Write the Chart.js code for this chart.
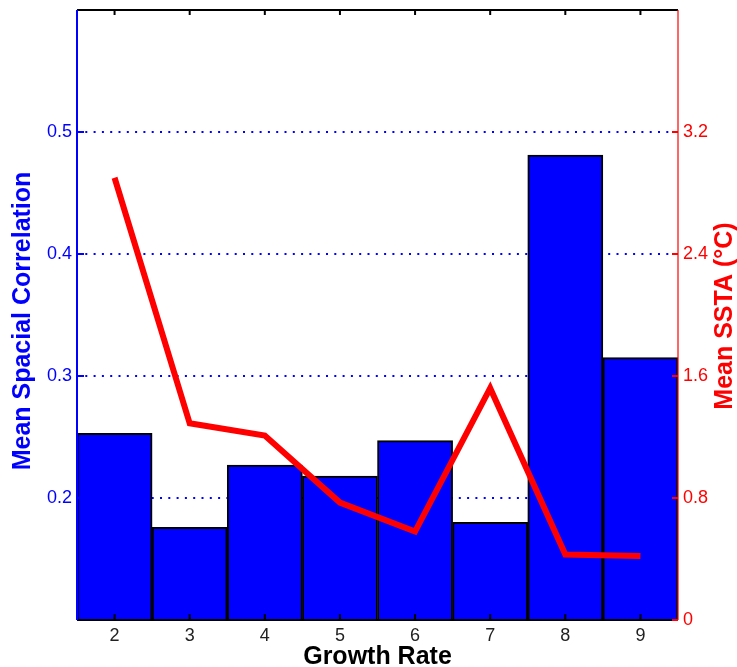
<!DOCTYPE html>
<html>
<head>
<meta charset="utf-8">
<script src="https://cdn.jsdelivr.net/npm/chart.js@4"></script>
<style>
  html, body { margin: 0; padding: 0; background: #fff; }
  #wrap { width: 737px; height: 667px; }
</style>
</head>
<body>
<div id="wrap"><canvas id="growthChart" width="737" height="667"></canvas></div>
<script>
const growthRates = ['2', '3', '4', '5', '6', '7', '8', '9'];
const meanCorrelation = [0.253, 0.176, 0.227, 0.218, 0.247, 0.180, 0.481, 0.315];
const meanSsta = [2.90, 1.29, 1.21, 0.77, 0.58, 1.52, 0.43, 0.42];
const corrTicks = [0.2, 0.3, 0.4, 0.5];
const sstaTicks = [0, 0.8, 1.6, 2.4, 3.2];

const tickFont = { family: 'Liberation Sans', size: 18 };
const titleFont = { family: 'Liberation Sans', size: 25, weight: 'bold', lineHeight: 1 };

// MATLAB-style box with inward tick marks, drawn over the bars
const frame = {
    id: 'frame',
    afterDatasetsDraw(chart) {
        const { ctx, chartArea: a, scales: { x, y, y1 } } = chart;
        ctx.save();
        ctx.lineCap = 'butt';

        ctx.strokeStyle = '#000';
        ctx.lineWidth = 2;
        ctx.beginPath();
        ctx.moveTo(a.left, a.top); ctx.lineTo(a.right, a.top);
        ctx.moveTo(a.left, a.bottom); ctx.lineTo(a.right, a.bottom);
        growthRates.forEach((c, i) => {
            const px = x.getPixelForValue(i);
            ctx.moveTo(px, a.top); ctx.lineTo(px, a.top + 5);
            ctx.moveTo(px, a.bottom); ctx.lineTo(px, a.bottom - 6);
        });
        ctx.stroke();

        ctx.strokeStyle = '#0000ff';
        ctx.beginPath();
        ctx.moveTo(a.left, a.top); ctx.lineTo(a.left, a.bottom);
        corrTicks.forEach(v => {
            const py = y.getPixelForValue(v);
            ctx.moveTo(a.left, py); ctx.lineTo(a.left + 7, py);
        });
        ctx.stroke();

        ctx.strokeStyle = '#ff0000';
        ctx.lineWidth = 1.2;
        ctx.beginPath();
        ctx.moveTo(a.right, a.top); ctx.lineTo(a.right, a.bottom);
        ctx.stroke();
        ctx.lineWidth = 2;
        ctx.beginPath();
        sstaTicks.forEach(v => {
            const py = y1.getPixelForValue(v);
            ctx.moveTo(a.right, py); ctx.lineTo(a.right - 6, py);
        });
        ctx.stroke();

        // both side titles read bottom-to-top
        ctx.font = 'bold 25px "Liberation Sans"';
        ctx.textAlign = 'center';
        ctx.textBaseline = 'middle';
        const side = (text, color, cx, cy) => {
            ctx.save();
            ctx.translate(cx, cy);
            ctx.rotate(-Math.PI / 2);
            ctx.fillStyle = color;
            ctx.fillText(text, 0, 0);
            ctx.restore();
        };
        side('Mean Spacial Correlation', '#0000ff', 23, 321);
        side('Mean SSTA (°C)', '#ff0000', 725, 316);
        ctx.restore();
    }
};

new Chart(document.getElementById('growthChart'), {
    data: {
        labels: growthRates,
        datasets: [{
            type: 'line',
            label: 'Mean SSTA',
            data: meanSsta,
            yAxisID: 'y1',
            borderColor: '#ff0000',
            borderWidth: 6,
            pointRadius: 0,
            tension: 0,
            order: 0
        }, {
            type: 'bar',
            label: 'Mean Spacial Correlation',
            data: meanCorrelation,
            yAxisID: 'y',
            backgroundColor: '#0000ff',
            borderColor: '#000',
            borderWidth: 2,
            barPercentage: 1,
            categoryPercentage: 1,
            order: 1
        }]
    },
    options: {
        responsive: false,
        animation: false,
        layout: { padding: { top: 10, left: 0, right: 0, bottom: 0 } },
        plugins: {
            legend: { display: false },
            tooltip: { enabled: false }
        },
        scales: {
            x: {
                offset: true,
                grid: { display: false, drawTicks: false },
                border: { display: false },
                ticks: { color: '#222', padding: 5, font: tickFont },
                title: {
                    display: true,
                    text: 'Growth Rate',
                    color: '#000',
                    padding: { top: 0, bottom: -3 },
                    font: titleFont
                },
                afterFit(s) { s.height = 47; s.paddingLeft = 0; s.paddingRight = 0; }
            },
            y: {
                position: 'left',
                min: 0.1,
                max: 0.6,
                afterBuildTicks(s) { s.ticks = corrTicks.map(v => ({ value: v })); },
                grid: {
                    color: '#0000ff',
                    lineWidth: 2,
                    drawTicks: false
                },
                border: { display: false, dash: [2, 6.3] },
                ticks: {
                    color: '#0000ff',
                    padding: 5,
                    font: tickFont,
                    callback: v => v.toFixed(1)
                },
                afterFit(s) { s.width = 77; s.paddingTop = 0; s.paddingBottom = 0; }
            },
            y1: {
                position: 'right',
                min: 0,
                max: 4,
                afterBuildTicks(s) { s.ticks = sstaTicks.map(v => ({ value: v })); },
                grid: { display: false, drawTicks: false },
                border: { display: false },
                ticks: {
                    color: '#ff0000',
                    padding: 5,
                    font: tickFont,
                    callback: v => String(Math.round(v * 10) / 10)
                },
                afterFit(s) { s.width = 59; s.paddingTop = 0; s.paddingBottom = 0; }
            }
        }
    },
    plugins: [frame]
});
</script>
</body>
</html>
